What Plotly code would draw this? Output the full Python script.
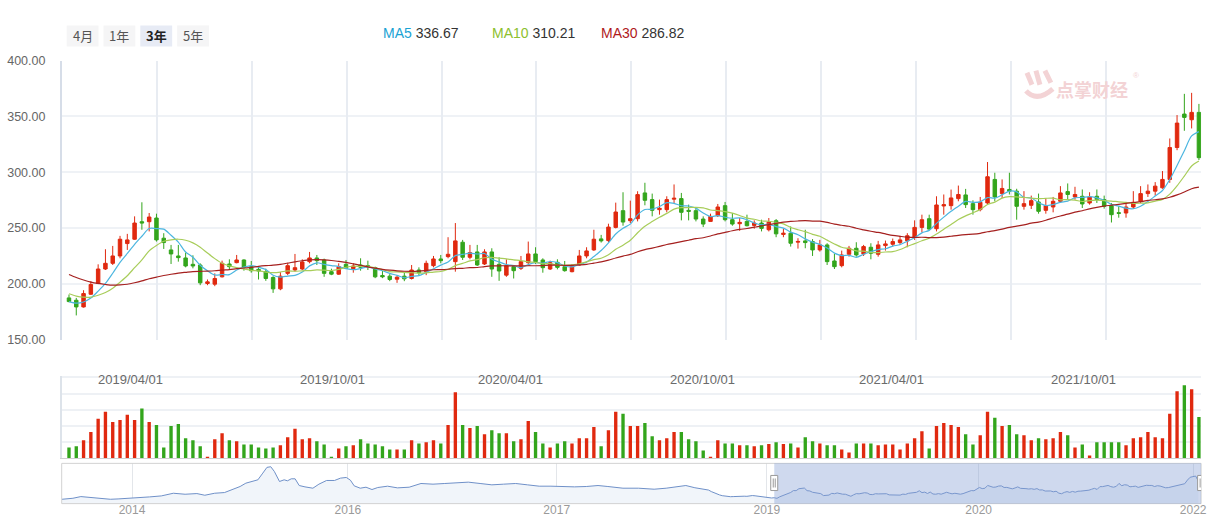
import plotly.graph_objects as go
import pandas as pd

W, H = 1231, 523

# ---------------- data ----------------
opens = [187.3, 185.2, 179.2, 190.6, 200.2, 213.2, 218.3, 224.9, 236.0, 239.9,
         255.6, 255.6, 258.9, 240.8, 230.3, 224.9, 223.1, 217.4, 216.8, 200.2,
         199.6, 206.2, 217.7, 218.9, 221.3, 215.3, 212.9, 210.8, 205.6, 195.4,
         209.3,
         212.3, 213.2, 219.8, 223.1, 221.3, 210.8, 208.6, 217.4, 213.5, 216.8,
         216.2, 214.4, 207.4, 206.8, 204.1, 206.8, 204.7, 212.3, 210.8, 216.2,
         222.2, 224.3, 219.8, 237.2, 223.7, 228.5, 217.7, 228.5, 217.4, 207.7,
         215.3,
         213.8, 218.9, 226.7, 221.3, 213.2, 219.2, 215.3, 210.8, 216.8, 224.9,
         230.3, 240.2, 238.7, 250.5, 265.5, 256.5, 258.3, 281.4, 275.4, 266.4,
         266.4, 275.8, 276.3, 265.8, 265.5, 258.0, 255.9, 261.0, 270.0, 257.4,
         253.8, 255.9,
         252.3, 254.4, 248.4, 256.5, 244.2, 245.3, 237.3, 238.4, 237.8, 230.3,
         234.8, 220.4, 216.2, 226.4, 231.8, 226.7, 232.7, 226.4, 234.2, 235.4,
         236.9, 238.4, 241.4, 250.5, 258.3, 249.3, 269.7, 270.0, 276.3, 279.6,
         271.8,
         266.4, 272.4, 293.5, 280.8, 284.5, 283.0, 269.4, 270.3, 273.3, 265.8,
         268.8, 273.9, 282.6, 277.8, 278.4, 272.4, 278.4, 275.4, 270.0, 263.7,
         263.4, 268.8, 273.9, 280.8, 283.0, 286.0, 293.5, 322.1, 352.1, 347.0,
         353.6]
highs = [190.3, 187.3, 194.2, 202.3, 217.4, 230.9, 233.9, 242.9, 244.7, 260.4,
         273.0, 263.4, 262.8, 245.3, 234.8, 234.8, 227.9, 225.5, 218.3, 203.8,
         209.3, 220.7, 221.9, 225.8, 221.9, 220.4, 215.3, 213.5, 206.8, 210.5,
         218.3,
         226.7, 221.9, 228.5, 225.8, 222.5, 213.5, 218.3, 221.3, 218.3, 222.8,
         220.7, 215.3, 211.4, 208.6, 206.8, 209.9, 216.8, 214.7, 220.7, 224.9,
         225.8, 241.7, 254.4, 239.3, 234.8, 234.8, 230.9, 231.8, 223.7, 221.9,
         216.8,
         224.9, 237.8, 232.7, 222.8, 220.7, 221.9, 220.4, 217.7, 230.3, 232.7,
         248.4, 243.8, 253.8, 272.7, 282.0, 274.5, 282.9, 290.5, 280.8, 275.4,
         278.4, 289.0, 281.4, 270.9, 267.9, 260.4, 262.8, 271.5, 273.3, 263.4,
         258.9, 261.9,
         256.8, 257.4, 258.9, 258.0, 249.3, 251.4, 240.8, 248.4, 240.0, 239.3,
         236.3, 226.7, 229.7, 233.9, 237.2, 234.8, 236.3, 238.4, 238.7, 240.5,
         242.9, 245.3, 256.8, 261.9, 261.9, 278.4, 280.0, 284.4, 288.0, 285.0,
         274.8,
         277.8, 309.1, 299.5, 293.5, 299.5, 285.1, 283.0, 279.0, 280.8, 276.0,
         277.8, 287.5, 289.9, 286.9, 284.5, 282.0, 284.5, 279.0, 272.4, 269.4,
         273.0, 283.0, 287.5, 289.0, 291.1, 301.0, 330.2, 351.2, 370.2, 371.1,
         361.2]
lows = [183.4, 171.6, 178.6, 190.0, 199.6, 212.3, 216.8, 222.8, 230.3, 239.3,
        248.4, 246.9, 237.8, 231.2, 217.7, 219.8, 214.7, 213.8, 198.7, 198.7,
        197.8, 205.6, 212.9, 218.3, 211.7, 209.9, 203.8, 202.6, 191.8, 194.2,
        207.7,
        210.8, 212.3, 218.3, 216.8, 206.2, 207.7, 208.0, 213.2, 209.9, 211.7,
        212.3, 205.0, 205.0, 202.3, 200.8, 202.3, 203.8, 207.7, 207.7, 214.7,
        218.3, 222.8, 210.8, 221.3, 221.9, 215.9, 216.8, 206.2, 202.6, 206.2,
        204.7,
        212.3, 217.7, 217.7, 209.9, 212.3, 212.9, 210.8, 210.2, 216.2, 222.8,
        229.4, 236.9, 237.2, 249.6, 252.0, 254.4, 255.9, 270.3, 260.4, 261.9,
        264.0, 272.4, 256.8, 256.8, 255.9, 250.8, 255.9, 259.8, 255.9, 252.0,
        247.4, 251.4,
        249.3, 246.9, 246.9, 241.7, 241.7, 233.3, 231.5, 231.8, 224.9, 228.8,
        216.8, 213.2, 214.7, 224.3, 224.3, 224.9, 221.9, 224.3, 229.7, 233.3,
        234.8, 232.7, 239.3, 246.0, 247.8, 246.9, 261.9, 266.4, 273.9, 267.9,
        261.9,
        264.9, 270.9, 273.9, 276.9, 280.0, 257.4, 266.4, 267.0, 262.8, 262.8,
        264.0, 272.4, 275.4, 275.4, 267.9, 270.9, 272.4, 267.3, 254.9, 259.2,
        259.2, 267.0, 272.4, 277.8, 279.0, 285.1, 290.5, 319.7, 337.1, 339.2,
        310.9]
closes = [184.0, 179.2, 191.2, 199.3, 213.2, 218.3, 224.9, 239.9, 239.3, 254.4,
          254.4, 259.8, 239.3, 236.9, 226.7, 223.4, 215.9, 215.9, 200.8, 201.7,
          204.7, 218.3, 215.3, 221.3, 214.7, 211.7, 211.4, 204.7, 195.4, 206.8,
          216.2,
          214.4, 219.5, 223.1, 220.7, 209.3, 208.6, 215.3, 213.8, 215.9, 214.7,
          215.3, 206.2, 206.2, 203.8, 205.9, 204.4, 212.3, 209.9, 218.3, 222.2,
          220.7, 226.4, 238.4, 223.7, 227.9, 216.8, 228.5, 213.2, 211.4, 216.2,
          211.7,
          219.8, 226.7, 219.8, 214.4, 218.9, 214.7, 211.7, 216.2, 224.9, 229.4,
          239.9, 238.4, 250.8, 264.3, 255.3, 258.3, 279.9, 274.8, 265.8, 267.6,
          275.4, 276.6, 264.0, 264.9, 258.0, 253.5, 260.4, 268.8, 257.4, 253.5,
          255.0, 252.0,
          254.4, 249.6, 255.3, 244.7, 245.3, 236.3, 237.9, 236.9, 230.3, 234.8,
          219.8, 215.3, 225.8, 231.8, 225.8, 233.3, 227.3, 234.8, 235.7, 237.8,
          239.3, 243.0, 250.5, 257.4, 249.0, 270.6, 270.9, 276.9, 280.0, 270.9,
          266.4,
          273.0, 295.9, 277.8, 285.4, 283.0, 269.4, 271.8, 274.5, 264.9, 270.0,
          273.9, 281.4, 280.0, 280.0, 271.5, 277.8, 275.4, 269.4, 261.9, 263.1,
          268.8, 273.0, 280.8, 283.0, 287.5, 293.5, 322.1, 344.0, 349.1, 353.6,
          313.0]
volumes = [0.67, 0.74, 1.11, 1.62, 2.44, 2.88, 2.25, 2.37, 2.69, 2.37,
           3.07, 2.25, 2.06, 0.67, 2.00, 2.12, 1.24, 1.11, 0.74, 0.10,
           1.18, 1.55, 1.11, 1.05, 0.86, 0.86, 0.67, 0.61, 0.67, 0.80,
           1.30,
           1.83, 1.18, 1.24, 1.05, 0.86, 0.06, 0.61, 0.74, 0.80, 1.18,
           0.92, 0.86, 0.74, 0.55, 0.55, 0.55, 1.11, 0.92, 0.99, 1.11,
           0.92, 2.06, 4.08, 2.06, 1.87, 2.00, 1.49, 1.74, 1.55, 1.55,
           1.05,
           1.18, 2.31, 1.62, 0.92, 0.67, 0.92, 1.05, 0.92, 1.24, 1.24,
           1.93, 0.74, 1.74, 2.88, 2.75, 2.00, 2.00, 2.18, 1.37, 1.11,
           1.24, 1.62, 1.62, 1.18, 1.05, 0.48, 0.10, 1.11, 0.92, 0.92,
           0.80, 0.80,
           0.74, 0.80, 0.88, 0.99, 0.88, 0.92, 0.67, 1.30, 1.05, 0.92,
           0.80, 0.80, 0.55, 0.36, 0.92, 0.92, 0.92, 0.80, 0.86, 0.86,
           0.55, 0.92, 1.24, 1.68, 0.61, 2.00, 2.18, 2.06, 1.93, 1.49,
           0.86,
           1.43, 2.88, 2.50, 2.00, 2.06, 1.49, 1.43, 1.11, 1.24, 1.18,
           1.24, 1.62, 1.43, 0.67, 0.86, 0.17, 0.99, 0.99, 0.99, 0.99,
           0.80, 1.24, 1.30, 1.62, 1.30, 1.24, 2.75, 4.14, 4.52, 4.26,
           2.56]

# weekly closes before the visible window (needed for the moving averages)
pre_closes = [262, 258, 254, 250, 246, 244, 232, 222, 214, 206,
              200, 196, 194, 192, 193, 195, 196, 194, 196, 195,
              200, 201, 199, 196, 194, 186, 186, 182, 182]

# longer history shown in the navigator (weeks relative to first visible week)
nav_hist_weeks = [-260.3, -256.3, -253.4, -249.8, -245.5, -242.6, -239.8, -235.5, -231.1, -228.3,
                  -224.0, -219.6, -215.3, -211.0, -208.1, -204.5, -200.9, -198.1, -195.2, -193.1,
                  -190.2, -188.7, -186.9, -185.4, -184.0, -182.7, -180.8, -179.1, -177.9, -176.5,
                  -175.1, -173.6, -171.5, -168.6, -166.4, -163.6, -160.7, -158.5, -156.4, -154.9,
                  -153.5, -151.3, -149.2, -147.0, -144.9, -141.3, -137.7, -133.4, -129.1, -124.7,
                  -120.4, -116.1, -111.8, -107.5, -103.2, -98.9, -94.5, -90.2, -85.9, -81.6,
                  -77.3, -73.0, -68.7, -64.4, -60.8, -55.3, -49.6, -43.9, -39.5, -35.2, -32.3]
nav_hist_prices = [171.9, 179.8, 192.9, 185.0, 179.8, 171.9, 174.6, 179.8, 182.4, 190.3,
                   198.2, 219.1, 211.3, 216.5, 203.4, 219.1, 224.4, 245.4, 271.7, 297.9,
                   316.3, 324.2, 376.6, 421.3, 426.5, 389.8, 311.0, 324.2, 316.3, 332.0,
                   332.0, 279.5, 269.0, 258.5, 290.0, 318.9, 318.9, 337.3, 342.5, 321.5,
                   276.9, 258.5, 266.4, 248.0, 263.8, 274.3, 261.2, 266.4, 295.3, 290.0,
                   295.3, 297.9, 305.8, 295.3, 284.8, 290.0, 295.3, 284.8, 274.3, 274.3,
                   269.0, 269.0, 271.7, 279.5, 271.7, 258.5, 258.5, 250.6, 258.5, 269.0, 279.5]

date_labels = ["2019/04/01", "2019/10/01", "2020/04/01", "2020/10/01", "2021/04/01", "2021/10/01"]
date_label_idx = [8.4, 36.1, 60.6, 86.9, 112.8, 139.1]
nav_tick_weeks = [-234.7, -155.8, -79.5, -2.7, 74.7, 153.1]
nav_tick_labels = ["2014", "2016", "2017", "2019", "2020", "2022"]
ma_periods = [5, 10, 30]
ma_names = ["MA5", "MA10", "MA30"]
ma_last_text = ["336.67", "310.21", "286.82"]
range_buttons = ["4月", "1年", "3年", "5年"]
selected_button = "3年"
price_ticks = [150, 200, 250, 300, 350, 400]

# ---------------- styles ----------------
RED = "#e0290f"
GREEN = "#33a51c"
MA_COLORS = ["#4cb6e0", "#a8cd5a", "#a5201f"]
MA_TEXT_COLORS = ["#1aa3d4", "#8dc02e", "#b0191c"]
FONT = "Liberation Sans, Arial, Noto Sans CJK SC, sans-serif"
CJK = "Noto Sans CJK SC, sans-serif"
WM = "#f3d3d5"

# vertical placement: target photo pixel -> paper fraction (compensates the
# vertical squeeze observed in the captured page)
SQ, OFF = 0.9666, 8.75

def px(x):
    return x / W

def py(t):
    return 1 - ((t - OFF) / SQ) / H

n = len(closes)
idx = list(range(n))

series = pd.Series(pre_closes + closes, dtype=float)
ma_values = [series.rolling(p).mean().iloc[len(pre_closes):].tolist() for p in ma_periods]

bar_colors = [RED if c >= o else GREEN for o, c in zip(opens, closes)]

fig = go.Figure()

# helper trace for the vertical grid of the price panel
fig.add_trace(go.Scatter(x=[0, 12], y=[150, 150], mode="lines", line=dict(width=0),
                         xaxis="x4", yaxis="y", hoverinfo="skip", showlegend=False))

fig.add_trace(go.Candlestick(
    x=idx, open=opens, high=highs, low=lows, close=closes,
    increasing=dict(line=dict(color=RED, width=1), fillcolor=RED),
    decreasing=dict(line=dict(color=GREEN, width=1), fillcolor=GREEN),
    whiskerwidth=0, xaxis="x", yaxis="y", showlegend=False, hoverinfo="skip"))

for name, vals, col in zip(ma_names, ma_values, MA_COLORS):
    fig.add_trace(go.Scatter(x=idx, y=vals, mode="lines", name=name,
                             line=dict(color=col, width=1.2, shape="spline", smoothing=0.8),
                             xaxis="x", yaxis="y", showlegend=False, hoverinfo="skip"))

fig.add_trace(go.Bar(x=idx, y=volumes, marker=dict(color=bar_colors, line=dict(width=0)),
                     width=0.46, xaxis="x2", yaxis="y2", showlegend=False, hoverinfo="skip"))

nav_x = nav_hist_weeks + list(range(-len(pre_closes), 0)) + idx
nav_y = nav_hist_prices + pre_closes + closes
fig.add_trace(go.Scatter(x=nav_x, y=nav_y, mode="lines", fill="tozeroy",
                         fillcolor="#f1f5fa", line=dict(color="#6f90c8", width=1),
                         xaxis="x3", yaxis="y3", showlegend=False, hoverinfo="skip"))

dom_x = [px(62), px(1207)]
xr = [-1.0, 155.3]

layout = dict(
    width=W, height=H, margin=dict(l=0, r=0, t=0, b=0, pad=0), autosize=False,
    paper_bgcolor="white", plot_bgcolor="white",
    font=dict(family=FONT, size=12, color="#666"),
    showlegend=False, boxgap=0.32,
    xaxis=dict(domain=dom_x, range=xr, anchor="y", showgrid=False, zeroline=False,
               showticklabels=False, ticks="", showline=False,
               rangeslider=dict(visible=False)),
    xaxis4=dict(domain=dom_x, range=[0, 12], dtick=1, overlaying="x", anchor="y",
                showgrid=True, gridcolor="#e8ecf2", gridwidth=2, zeroline=False,
                showticklabels=False, ticks=""),
    yaxis=dict(domain=[py(339), py(62)], range=[150, 400], tickvals=price_ticks,
               tickformat=".2f", showgrid=True, gridcolor="#eff2f6", gridwidth=2,
               zeroline=False, showline=True, linecolor="#d6dde8", linewidth=1.5,
               ticks="", ticklabelstandoff=12, tickfont=dict(size=12.5, color="#666")),
    xaxis2=dict(domain=dom_x, range=xr, anchor="y2", showgrid=False, zeroline=False,
                showticklabels=False, ticks="", showline=True, linecolor="#d0d0d0", linewidth=1),
    yaxis2=dict(domain=[py(457), py(375)], range=[0, 5.1], dtick=1, showgrid=True,
                gridcolor="#eef1f5", gridwidth=1.5, zeroline=False, showticklabels=False,
                ticks="", showline=True, linecolor="#dde3ea", linewidth=1.5),
    xaxis3=dict(domain=dom_x, range=[-260.4, 156], anchor="y3", tickvals=nav_tick_weeks,
                ticktext=nav_tick_labels, showgrid=True, gridcolor="#e3e6ea", zeroline=False,
                ticks="", showline=False, ticklabelstandoff=-3,
                tickfont=dict(size=12, color="#9a9a9a")),
    yaxis3=dict(domain=[py(502), py(462)], range=[137.8, 452.8], showgrid=False,
                zeroline=False, showticklabels=False, ticks="", showline=False),
)

shapes = []
annotations = []

def note(x, y, text, size, color, family=FONT, xanchor="center", xref="paper"):
    annotations.append(dict(xref=xref, yref="paper", x=x, y=y, text=text, showarrow=False,
                            xanchor=xanchor, yanchor="middle",
                            font=dict(family=family, size=size, color=color)))

# navigator frame, selection and handles
shapes.append(dict(type="rect", xref="x3 domain", yref="y3 domain", x0=0, x1=1, y0=0, y1=1,
                   line=dict(color="#d2d2d2", width=1), layer="above"))
shapes.append(dict(type="rect", xref="x3", yref="y3 domain", x0=0, x1=n, y0=0, y1=1,
                   fillcolor="rgba(135,160,212,0.40)", line=dict(width=0), layer="above"))
for hx in [0, n]:
    shapes.append(dict(type="rect", xref="x3", yref="paper", xsizemode="pixel",
                       xanchor=hx, x0=-3.5, x1=3.5, y0=py(489), y1=py(474),
                       fillcolor="white", line=dict(color="#9a9a9a", width=1), layer="above"))
    for dx in [-1, 1]:
        shapes.append(dict(type="line", xref="x3", yref="paper", xsizemode="pixel",
                           xanchor=hx, x0=dx, x1=dx, y0=py(486), y1=py(477),
                           line=dict(color="#9a9a9a", width=1), layer="above"))

# range buttons
btn_x = [(67, 99), (104, 136), (141, 173), (178, 210)]
for (x0, x1), lab in zip(btn_x, range_buttons):
    sel = lab == selected_button
    shapes.append(dict(type="rect", xref="paper", yref="paper", x0=px(x0), x1=px(x1),
                       y0=py(48), y1=py(27), fillcolor="#e7ebf5" if sel else "#f5f5f6",
                       line=dict(width=0), layer="below"))
    note(px((x0 + x1) / 2), py(37.5), ("<b>%s</b>" % lab) if sel else lab, 13,
         "#222" if sel else "#555", family=CJK)

# MA legend
leg_x = [382.5, 492.3, 602.3]
for lx, name, txt, col in zip(leg_x, ma_names, ma_last_text, MA_TEXT_COLORS):
    note(px(lx), py(35), "<span style='color:%s'>%s</span> %s" % (col, name, txt),
         14, "#333", xanchor="left")

# date labels in volume panel
for lab, xi in zip(date_labels, date_label_idx):
    note(xi, py(378.5), lab, 13, "#6b6b6b", xref="x2")

# watermark (logo strokes + brand text)
for (x0, y0, x1, y1) in [(1032, 74, 1037, 86), (1041, 72, 1045, 86), (1050, 72, 1056, 84)]:
    shapes.append(dict(type="line", xref="paper", yref="paper", x0=px(x0), y0=py(y0),
                       x1=px(x1), y1=py(y1), line=dict(color=WM, width=5), layer="above"))
shapes.append(dict(type="path", xref="paper", yref="paper", layer="above",
                   path="M %f %f Q %f %f %f %f" % (px(1031), py(92), px(1042), py(104), px(1058), py(90)),
                   line=dict(color=WM, width=5)))
note(px(1097), py(90), "<b>点掌财经</b>", 18, WM, family=CJK)
note(px(1142), py(77), "®", 8, WM)

layout["shapes"] = shapes
layout["annotations"] = annotations
fig.update_layout(**layout)

fig.write_html("out.html")
